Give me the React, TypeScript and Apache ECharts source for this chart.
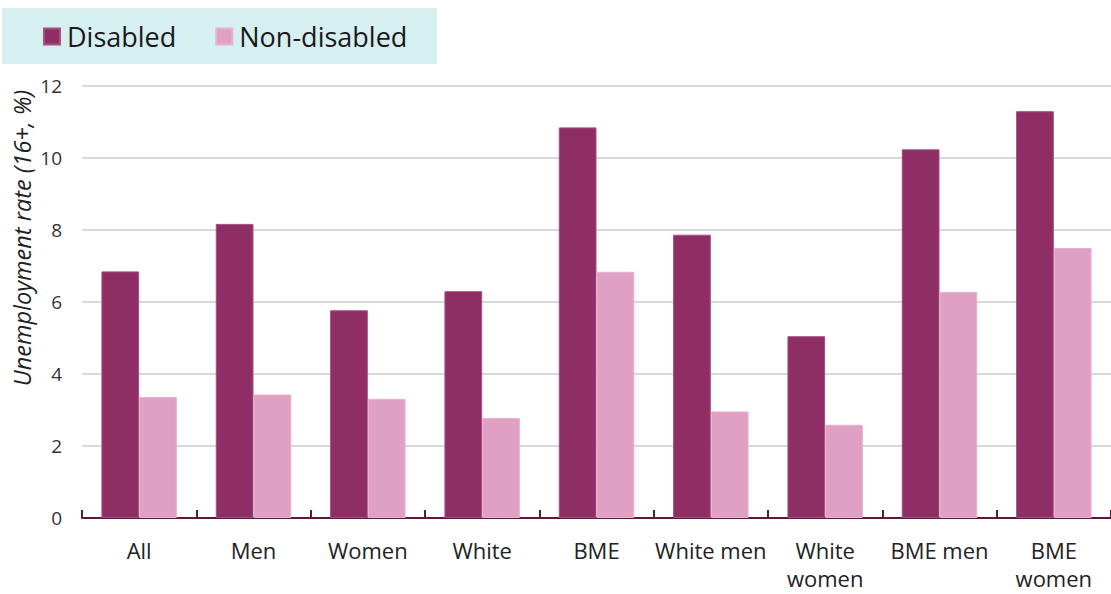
import React, { useEffect, useRef } from "react";
import * as echarts from "echarts";

const categories = [
  "All",
  "Men",
  "Women",
  "White",
  "BME",
  "White men",
  "White\nwomen",
  "BME men",
  "BME\nwomen",
];
const disabled = [6.85, 8.17, 5.77, 6.3, 10.85, 7.87, 5.05, 10.24, 11.3];
const nonDisabled = [3.36, 3.43, 3.31, 2.78, 6.84, 2.96, 2.59, 6.28, 7.5];
const yTicks = { min: 0, max: 12, interval: 2 };

const FONT = "'Open Sans', 'Noto Sans', sans-serif";
const DISABLED_COLOR = "#8E2E64";
const NON_DISABLED_COLOR = "#E0A0C4";

export default function App() {
  const ref = useRef<HTMLDivElement>(null);

  useEffect(() => {
    if (!ref.current) return;
    const chart = echarts.init(ref.current, undefined, { renderer: "svg" });
    chart.setOption({
      animation: false,
      backgroundColor: "#ffffff",
      textStyle: { fontFamily: FONT },
      graphic: [
        {
          type: "rect",
          z: -10,
          shape: { x: 2, y: 8, width: 435, height: 56 },
          style: { fill: "#D6EFF1" },
        },
        {
          type: "text",
          x: 22,
          y: 238,
          rotation: Math.PI / 2,
          style: {
            text: "Unemployment rate (16+, %)",
            fontFamily: FONT,
            fontSize: 23.5,
            fontStyle: "italic",
            fill: "#222222",
            align: "center",
            verticalAlign: "middle",
          },
        },
      ],
      legend: {
        left: 38,
        top: 18,
        itemWidth: 16,
        itemHeight: 16,
        itemGap: 39,
        icon: "rect",
        textStyle: { fontSize: 27, color: "#1a1a1a", fontFamily: FONT, padding: [0, 0, 0, 2] },
        data: ["Disabled", "Non-disabled"],
      },
      grid: {
        left: 82,
        right: 0,
        top: 86,
        height: 432,
        containLabel: false,
        outerBoundsMode: "none",
      },
      xAxis: {
        type: "category",
        data: categories,
        boundaryGap: true,
        axisLine: { lineStyle: { color: "#5A1A40", width: 2 } },
        axisTick: { show: true, inside: true, length: 8, lineStyle: { color: "#5A1A40", width: 2 } },
        axisLabel: {
          fontSize: 22,
          color: "#222222",
          margin: 18,
          lineHeight: 28,
          interval: 0,
          fontFamily: FONT,
        },
      },
      yAxis: {
        type: "value",
        min: yTicks.min,
        max: yTicks.max,
        interval: yTicks.interval,
        axisLine: { show: false },
        axisTick: { show: false },
        axisLabel: { fontSize: 19, color: "#333333", margin: 20, fontFamily: FONT },
        splitLine: { lineStyle: { color: "#D9D9D9", width: 2 } },
      },
      series: [
        {
          name: "Disabled",
          type: "bar",
          data: disabled,
          barGap: "0%",
          barCategoryGap: "34%",
          itemStyle: { color: DISABLED_COLOR, borderColor: "#A35082", borderWidth: 1 },
        },
        {
          name: "Non-disabled",
          type: "bar",
          data: nonDisabled,
          barGap: "0%",
          barCategoryGap: "34%",
          itemStyle: { color: NON_DISABLED_COLOR, borderColor: "#E6B2CF", borderWidth: 1 },
        },
      ],
    });
    return () => chart.dispose();
  }, []);

  return (
    <div
      ref={ref}
      style={{ position: "absolute", left: 0, top: 0, width: 1111, height: 594 }}
    />
  );
}
